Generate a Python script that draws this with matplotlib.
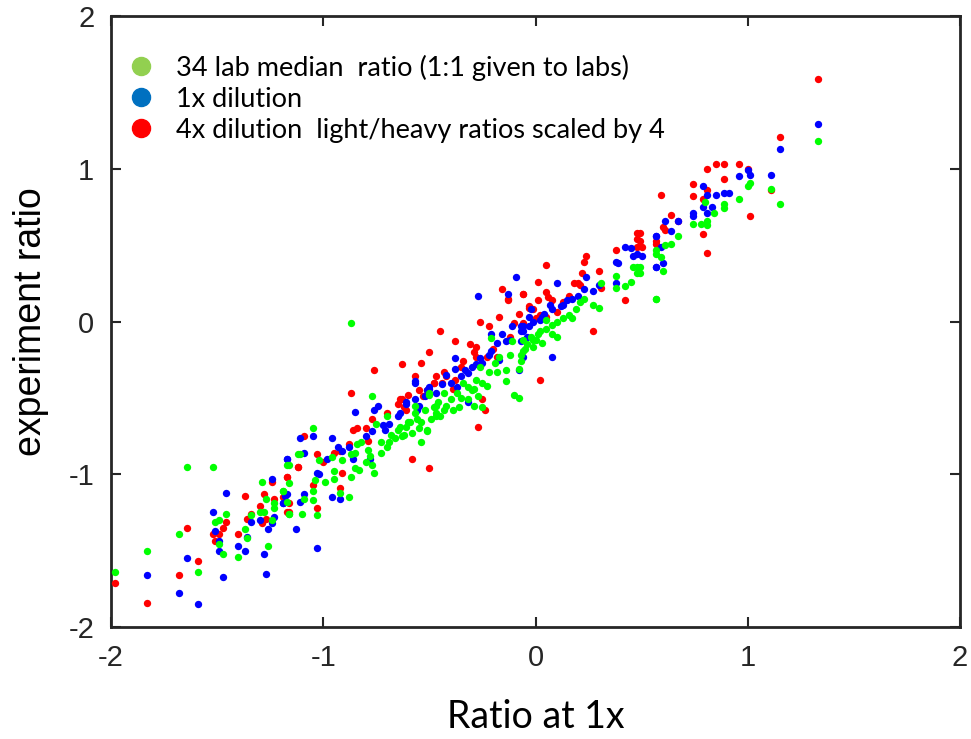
import matplotlib
matplotlib.use("Agg")
import matplotlib.pyplot as plt
from matplotlib import font_manager
from matplotlib.lines import Line2D

plt.rcParams["axes.unicode_minus"] = False

# ---- data (log ratios) ----
green_x = [-1.64, -1.52, -1.98, -1.83, -1.68, -1.59, -1.46, -1.49, -1.51, -1.49, -1.47, -1.37, -1.36, -1.40, -1.26,
           -1.29, -1.27, -1.23, -1.23, -1.28, -1.30, -1.34, -1.24, -1.19, -1.17, -1.16, -1.17, -1.12, -1.16,
           -0.77, -1.05, -1.11, -1.16, -1.02, -1.04, -0.95, -0.96, -0.87, -0.83, -0.76, -0.77, -0.73, -0.79,
           -0.87, -0.85, -0.91, -0.82, -0.84, -0.73, -0.69, -0.68, -0.65, -0.64, -0.60, -0.56, -0.54, -0.51,
           -0.57, -0.50, -0.47, -0.47, -0.49, -0.70, -0.75, -0.88, -0.92, -1.03, -1.10, -1.16, -1.19, -1.09,
           -1.05, -1.05,
           -0.21, -0.11, -0.06, -0.02, 0.01, -0.07, -0.08, -0.14, -0.14, -0.10, -0.08, -0.17, -0.19, -0.22,
           -0.26, -0.28, -0.23, -0.29, -0.27, -0.25, -0.32, -0.34, -0.37, -0.40, -0.43, -0.46, -0.50, -0.48,
           -0.52, -0.43, -0.39, -0.57, -0.59, -0.54, -0.51, -0.61, -0.63, -0.58, -0.47, -0.36, -0.32, -0.29,
           0.46, 0.48, 0.48, 0.38, 0.31, 0.38, 0.42, 0.45, 0.23, 0.21, 0.27, 0.30, 0.19, 0.16, 0.17, 0.13,
           0.10, 0.08, 0.05, 0.05, 0.02, 0.08, 0.10, 0.03, -0.01, -0.01, -0.04, -0.06, -0.07, 0.57,
           0.80, 0.89, 0.89, 0.84, 0.96, 1.00, 1.01, 1.11, 1.15, 0.81, 0.81, 0.78, 0.74, 0.67, 0.64, 0.61,
           0.57, 0.57, 0.59, 0.60, 0.49, 0.49, 0.57, 1.33, -0.87,
           -0.80, -0.78, -0.70, -0.66, -0.62, -0.55, -0.45, -0.42, -0.35, -0.30, -0.25, -0.18, -0.12, -0.05,
           0.00, -0.95, -0.99, -0.85]
green_y = [-0.95, -0.95, -1.64, -1.50, -1.39, -1.64, -1.26, -1.30, -1.31, -1.46, -1.52, -1.36, -1.42, -1.54, -1.47,
           -1.05, -1.16, -1.19, -1.22, -1.25, -1.25, -1.27, -1.30, -1.11, -1.18, -1.06, -0.94, -0.87, -1.26,
           -0.49, -0.70, -0.87, -0.94, -0.91, -1.04, -1.03, -0.89, -1.02, -0.97, -0.99, -0.94, -0.86, -0.84,
           -0.87, -0.86, -0.91, -0.79, -0.80, -0.79, -0.79, -0.74, -0.71, -0.69, -0.66, -0.64, -0.79, -0.72,
           -0.55, -0.48, -0.55, -0.60, -0.64, -0.62, -0.67, -1.15, -1.12, -1.27, -1.26, -1.26, -1.11, -1.16,
           -1.17, -1.11,
           -0.11, -0.13, -0.12, -0.10, -0.08, -0.26, -0.31, -0.32, -0.39, -0.48, -0.50, -0.23, -0.27, -0.33,
           -0.30, -0.38, -0.42, -0.44, -0.49, -0.56, -0.43, -0.40, -0.47, -0.51, -0.47, -0.53, -0.47, -0.56,
           -0.58, -0.58, -0.58, -0.60, -0.66, -0.66, -0.71, -0.69, -0.75, -0.73, -0.62, -0.56, -0.51, -0.55,
           0.36, 0.36, 0.32, 0.30, 0.25, 0.22, 0.23, 0.26, 0.15, 0.13, 0.11, 0.09, 0.08, 0.04, 0.02, 0.02,
           0.00, -0.02, 0.01, -0.05, -0.06, -0.08, -0.10, -0.14, -0.12, -0.17, -0.15, -0.19, -0.22, 0.15,
           0.78, 0.77, 0.74, 0.71, 0.80, 0.89, 0.91, 0.87, 0.77, 0.66, 0.63, 0.64, 0.64, 0.56, 0.51, 0.50,
           0.47, 0.44, 0.42, 0.33, 0.36, 0.32, 0.15, 1.18, -0.01,
           -0.92, -0.88, -0.82, -0.76, -0.74, -0.70, -0.62, -0.55, -0.50, -0.45, -0.40, -0.33, -0.22, -0.18,
           -0.12, -0.98, -1.05, -0.96]

blue_x = [-1.83, -1.68, -1.59, -1.64, -1.47, -1.46, -1.52, -1.51, -1.49, -1.49, -1.40, -1.37, -1.36, -1.28,
          -1.27, -1.30, -1.26, -1.24, -1.34, -1.24, -1.23, -1.17, -1.19, -1.17, -1.13,
          -0.57, -0.85, -0.74, -0.76, -0.96, -1.11, -1.05, -1.09, -1.17, -1.03, -1.02, -0.96, -0.92, -1.11,
          -1.19, -1.18, -1.09, -0.93, -0.91, -0.77, -0.71, -0.69, -0.61, -0.51, -0.50, -0.86, -0.78,
          -0.21, -0.16, -0.11, -0.07, -0.03, -0.02, -0.14, -0.18, -0.21, -0.26, -0.30, -0.32, -0.38, -0.38,
          -0.42, -0.44, -0.50, -0.52, -0.57, -0.57, -0.61, -0.56, -0.08, -0.17, -0.25, -0.35, -0.32, -0.37,
          -0.64,
          0.42, 0.45, 0.48, 0.46, 0.38, 0.39, 0.24, 0.10, 0.27, 0.30, 0.23, 0.20, 0.17, 0.15, 0.13, 0.12,
          0.08, 0.07, 0.04, 0.02, -0.01, -0.03, -0.06, -0.07, -0.04, -0.07, 0.08, 0.38, 0.57, 0.57, -0.06,
          1.11, 0.96, 1.00, 1.01, 0.79, 0.81, 0.85, 0.89, 0.91, 0.79, 0.83, 0.81, 0.74, 0.74, 0.61, 0.67,
          0.64, 0.57, 0.59, 0.50, 0.57, 0.60, 1.33, 1.15, -0.09, -0.13, -0.27, -1.03,
          -0.80, -0.72, -0.65, -0.55, -0.47, -0.40, -0.33, -0.28, -0.22, -0.12, -0.06, 0.03, -0.88, -0.98]
blue_y = [-1.66, -1.78, -1.85, -1.55, -1.67, -1.12, -1.25, -1.37, -1.44, -1.50, -1.47, -1.50, -1.41, -1.52,
          -1.65, -1.30, -1.36, -1.32, -1.31, -1.03, -1.28, -1.13, -1.19, -0.90, -1.36,
          -0.40, -0.59, -0.55, -0.58, -0.76, -0.76, -0.75, -0.86, -0.90, -0.99, -1.00, -1.15, -1.16, -1.18,
          -1.19, -1.14, -1.13, -0.82, -0.85, -0.72, -0.71, -0.67, -0.54, -0.45, -0.43, -0.90, -0.90,
          -0.08, -0.08, -0.03, -0.03, 0.03, 0.08, -0.13, -0.14, -0.19, -0.24, -0.30, -0.34, -0.24, -0.31,
          -0.35, -0.41, -0.44, -0.49, -0.51, -0.39, -0.53, -0.58, -0.32, -0.25, -0.27, -0.36, -0.53, -0.43,
          -0.60,
          0.49, 0.48, 0.44, 0.43, 0.39, 0.38, 0.29, 0.25, 0.20, 0.24, 0.21, 0.17, 0.15, 0.14, 0.11, 0.10,
          0.08, 0.11, 0.05, 0.01, 0.00, -0.03, -0.03, -0.06, -0.10, -0.13, -0.23, 0.25, 0.36, 0.56, -0.23,
          0.96, 0.95, 0.99, 0.96, 0.89, 0.83, 0.83, 0.84, 0.84, 0.75, 0.75, 0.71, 0.71, 0.69, 0.66, 0.66,
          0.59, 0.56, 0.49, 0.43, 0.36, 0.38, 1.29, 1.13, 0.29, 0.18, 0.17, -1.48,
          -0.75, -0.68, -0.62, -0.55, -0.47, -0.40, -0.32, -0.28, -0.22, -0.12, -0.06, 0.03, -0.82, -0.90]

red_x = [-1.98, -1.83, -1.68, -1.59, -1.64, -1.52, -1.51, -1.49, -1.47, -1.46, -1.40, -1.37, -1.36, -1.34,
         -1.30, -1.28, -1.29, -1.27, -1.24, -1.23, -1.17, -1.16, -1.17, -1.12,
         -0.76, -0.57, -0.87, -1.09, -1.12, -1.03, -1.17, -1.03, -1.16, -0.58, -0.50, -0.86, -0.84, -0.92,
         -0.88, -0.64, -0.65, -0.60, -0.53, -0.48, -0.47, -0.79, -0.77, -0.91, -0.92, -1.05, -1.19,
         -0.13, -0.03, -0.08, -0.17, -0.26, -0.22, -0.10, -0.45, -0.38, -0.50, -0.31, -0.28, -0.29, -0.34,
         -0.54, -0.63, -0.43, -0.48, -0.44, -0.51, -0.28, -0.23, -0.18, -0.25, -0.24, -0.27, 0.02, -0.63,
         -0.61, -0.38, -0.39,
         0.48, 0.48, 0.48, 0.38, 0.24, 0.23, 0.05, 0.22, 0.30, 0.31, 0.18, 0.20, 0.21, 0.01, -0.06, 0.05,
         0.06, 0.01, 0.08, -0.03, -0.01, 0.00, 0.02, 0.05, 0.13, 0.10, 0.42, 0.27, 0.16, -0.06,
         0.81, 0.85, 0.89, 0.96, 1.00, 0.89, 0.74, 0.59, 0.74, 0.79, 0.81, 0.64, 0.67, 0.60, 0.61, 0.49,
         0.57, 0.57, 0.49, 0.50, 1.01, 0.79, 0.81, 1.11, 1.33, 1.15, -0.16, -0.06, -0.13,
         -0.70, -0.62, -0.55, -0.42, -0.35, -0.20, -0.12, -0.80, -0.95, -1.00]
red_y = [-1.71, -1.84, -1.66, -1.57, -1.35, -1.39, -1.44, -1.39, -1.35, -1.31, -1.39, -1.14, -1.29, -1.26,
         -1.21, -1.13, -1.32, -1.29, -1.05, -1.16, -1.02, -1.19, -1.25, -0.95,
         -0.32, -0.36, -0.47, -0.75, -0.95, -0.87, -1.02, -1.22, -1.25, -0.90, -0.96, -0.71, -0.70, -0.85,
         -0.80, -0.51, -0.54, -0.48, -0.49, -0.40, -0.36, -0.78, -0.64, -0.99, -1.09, -1.07, -1.15,
         0.14, 0.10, 0.05, 0.03, 0.00, -0.03, -0.01, -0.06, -0.13, -0.20, -0.15, -0.17, -0.20, -0.26,
         -0.27, -0.28, -0.33, -0.40, -0.40, -0.45, -0.23, -0.23, -0.23, -0.51, -0.58, -0.69, -0.38, -0.51,
         -0.58, -0.38, -0.44,
         0.58, 0.54, 0.49, 0.47, 0.43, 0.39, 0.37, 0.32, 0.33, 0.22, 0.25, 0.25, 0.24, 0.26, 0.18, 0.19,
         0.16, 0.14, 0.14, 0.09, 0.08, 0.02, 0.04, 0.03, 0.13, 0.06, 0.14, -0.06, 0.17, -0.01,
         1.00, 1.03, 1.03, 1.03, 1.00, 0.93, 0.90, 0.83, 0.82, 0.80, 0.86, 0.70, 0.66, 0.62, 0.60, 0.58,
         0.53, 0.51, 0.53, 0.49, 0.69, 0.57, 0.45, 0.86, 1.59, 1.21, 0.21, 0.18, 0.15,
         -0.60, -0.56, -0.45, -0.36, -0.30, -0.18, -0.10, -0.70, -0.86, -0.92]

legend_labels = ["34 lab median  ratio (1:1 given to labs)",
                 "1x dilution",
                 "4x dilution  light/heavy ratios scaled by 4"]
legend_colors = ["#92d050", "#0070c0", "#ff0000"]
ticks = [-2, -1, 0, 1, 2]

names = {f.name for f in font_manager.fontManager.ttflist}
tick_font = "Liberation Sans Narrow" if "Liberation Sans Narrow" in names else "Liberation Sans"

fig = plt.figure(figsize=(9.71, 7.39), dpi=100)
ax = fig.add_axes([0.1143, 0.1516, 0.8744, 0.8267])

ax.scatter(red_x, red_y, s=28, c="#ff0000", linewidths=0, zorder=3)
ax.scatter(blue_x, blue_y, s=28, c="#0000ff", linewidths=0, zorder=4)
ax.scatter(green_x, green_y, s=28, c="#00ff00", linewidths=0, zorder=5)

ax.set_xlim(-2, 2)
ax.set_ylim(-2, 2)
ax.set_xticks(ticks)
ax.set_yticks(ticks)
ax.tick_params(direction="in", length=7, width=1.5, top=True, right=True, pad=12,
               labelsize=21, colors="#262626")
for lab in ax.get_xticklabels() + ax.get_yticklabels():
    lab.set_fontfamily(tick_font)
for sp in ax.spines.values():
    sp.set_linewidth(2)
    sp.set_color("#262626")

ax.set_xlabel("Ratio at 1x", fontsize=27, family="Lato", labelpad=20)
ax.set_ylabel("experiment ratio", fontsize=27, family="Liberation Sans", labelpad=14)

handles = [Line2D([], [], marker="o", linestyle="", markersize=13, color=c) for c in legend_colors]
ax.legend(handles, legend_labels, loc="upper left", bbox_to_anchor=(-0.019, 0.968), frameon=False,
          prop={"family": "Lato", "size": 19.5}, handletextpad=0.3, labelspacing=0.22,
          borderaxespad=0.3)

fig.savefig("out.png", dpi=100)
